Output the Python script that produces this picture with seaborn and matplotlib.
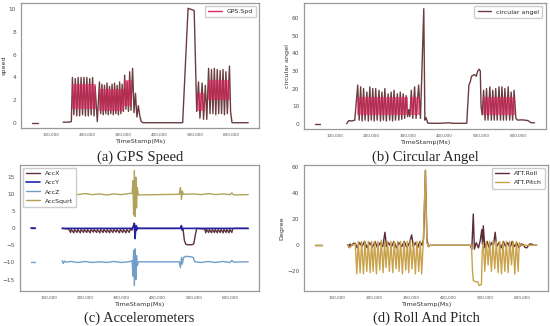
import numpy as np
import pandas as pd
import matplotlib
matplotlib.use("Agg")
import matplotlib.pyplot as plt
import seaborn as sns
from matplotlib.ticker import FuncFormatter

# timestamps are written in thousands of ms, nan = gap in the log
nan = np.nan

# (a) GPS speed
spd_t = [47, 64, 65, 134, 150, 157,
         160, 164, 168, 172, 176, 180, 184, 188, 192, 196, 200, 204, 208, 212, 216, 220, 223, 229,
         235, 238.5, 242, 245.5, 249, 252.5, 256, 259.5, 263, 266.5, 270, 273.5, 277, 280.5, 284, 287.5, 291, 294.5, 298, 301.5,
         305, 308.5, 312, 315.5, 319, 322.5, 327, 331, 335, 339, 343, 347, 351, 356,
         466, 481, 490, 498, 505, 510, 514, 520, 524, 529, 533,
         538, 542, 546, 550, 554, 558, 562, 566, 570, 574, 578, 582, 586, 590, 596, 599, 603, 648]
spd_v = [0, 0, nan, 0.05, 0.05, 0.1,
         4.0, 0.7, 3.9, 0.6, 4.0, 0.6, 4.0, 0.7, 4.0, 0.6, 4.0, 0.6, 3.9, 0.7, 4.0, 0.6, 3.2, 0.1,
         3.6, 0.8, 3.4, 0.7, 3.3, 0.8, 3.5, 0.7, 3.2, 0.8, 3.4, 0.7, 3.5, 0.8, 3.3, 0.7, 3.6, 0.8, 3.4, 1.0,
         4.2, 1.2, 3.6, 1.0, 4.5, 1.1, 4.8, 0.9, 2.6, 0.5, 1.5, 0.6, 0.1, 0,
         0, 10.1, 10.0, 9.9, 1.0, 3.6, 0.4, 3.5, 0.3, 3.3, 0.3,
         4.8, 0.8, 4.7, 0.8, 4.8, 0.7, 4.7, 0.8, 4.6, 0.8, 4.7, 0.7, 4.5, 0.8, 5.0, 1.0, 0.0, 0]
spd_band_t = [159, 226, nan, 233, 302, nan, 303, 326, nan, 507, 529, nan, 537, 597]
spd_band_lo = [1.2, 1.2, nan, 1.0, 1.0, nan, 1.5, 1.5, nan, 1.0, 1.0, nan, 2.0, 2.0]
spd_band_hi = [3.4, 3.4, nan, 3.0, 3.0, nan, 3.8, 3.8, nan, 2.6, 2.6, nan, 3.8, 3.8]

# (b) circular angle
ang_t = [47, 61, 62, 133, 139, 146, 155,
         163, 167, 171, 175, 179, 183, 188, 192, 196, 200, 204, 208, 212, 216, 221, 225, 229, 233, 237, 241,
         246, 250, 254, 258, 262, 266, 271, 275, 279, 283, 287, 291, 295, 299, 302, 305, 309, 313, 318, 322,
         329, 334, 343, 346, 349, 354, 380, 415, 420, 460, 466, 470, 473, 481, 486, 490, 494, 497, 499, 502,
         506, 510, 514, 518, 523, 527, 531, 535, 539, 543, 548, 552, 556, 560, 564, 568, 573, 577, 581, 585,
         589, 594, 599, 610, 626, 632, 636, 645]
ang_v = [0, 0, nan, 0, 1.8, 1.5, 2.0,
         22, 2, 21, 1.5, 20, 2, 18, 1.5, 21, 2, 20, 1.5, 20, 2, 19, 1.5, 18, 2, 20, 1.5,
         17, 2, 18, 1.5, 19, 2, 17, 2, 18, 2.5, 17, 3, 16, 4, 8, 4, 19, 3, 21, 3,
         22, 3, 65.5, 2, 3.5, 0.3, 0.2, 0.5, 0.2, 0.2, 22, 24, 27, 28, 27, 30, 31, 30, 10, 5,
         19, 2, 20, 2, 21, 2, 19, 2, 20, 2, 21, 2, 21, 2, 20, 2, 21, 2, 18, 2,
         19, 3, 2, 2.2, 1.8, 1.0, 0.5, 0.5]
ang_band_t = [162, 300, nan, 306, 333, nan, 505, 592]
ang_band_lo = [5, 5, nan, 5, 5, nan, 5, 5]
ang_band_hi = [15, 15, nan, 15, 15, nan, 15, 15]

# (c) accelerometers
accx_t = [50, 63, 64, 137, 155,
          160, 162, 169, 171, 178, 180, 187, 189, 196, 198, 205, 207, 214, 216, 223, 225, 232, 234,
          241, 243, 250, 252, 259, 261, 268, 270, 277, 279, 286, 288, 295, 297, 304, 306, 313, 315, 322, 324,
          330, 336, 338, 341, 345, 470, 474, 478, 485, 495, 500, 504, 508, 530,
          533, 535, 541, 543, 549, 551, 557, 559, 565, 567, 573, 575, 581, 583, 589, 591, 597, 599, 605, 607, 612, 650]
accx_v = [0, 0, nan, 0, -0.2,
          -1.2, -0.3, -1.3, -0.3, -1.2, -0.3, -1.3, -0.3, -1.2, -0.3, -1.2, -0.3, -1.3, -0.3, -1.1, -0.3, -1.2, -0.3,
          -1.3, -0.3, -1.2, -0.3, -1.2, -0.3, -1.3, -0.3, -1.2, -0.3, -1.1, -0.3, -1.3, -0.3, -1.2, -0.3, -1.3, -0.3, -1.2, -0.3,
          -0.5, 1.2, -2.0, 0.8, 0, 0, -3.5, -4.7, -4.8, -4.8, -4.5, -2.0, 0, -0.2,
          -1.3, -0.3, -1.2, -0.3, -1.3, -0.3, -1.2, -0.3, -1.3, -0.3, -1.2, -0.3, -1.3, -0.3, -1.2, -0.3, -1.3, -0.3, -1.2, -0.2, 0, 0]
accy_t = [50, 63, 64, 137, 330, 333, 336, 338, 340, 342, 345, 348, 463, 466, 468, 471, 650]
accy_v = [0, 0, nan, 0, 0, 0.5, 1.5, -3.0, 0.8, -0.5, 0.2, 0, 0, 0.8, -0.5, 0, 0]
accz_t = [50, 63, 64, 137, 140, 143, 148, 160, 180, 200, 220, 240, 260, 280, 300, 320, 330,
          332, 334, 336, 338, 340, 342, 344, 347, 460, 463, 466, 468, 472, 478, 490, 498, 503,
          520, 540, 560, 580, 600, 605, 610, 650]
accz_v = [-9.8, -9.8, nan, -9.5, -10.3, -9.6, -9.9, -9.7, -10.0, -9.7, -10.0, -9.8, -10.0, -9.7, -10.0, -9.8, -9.5,
          -14, -6.5, -16.8, -6.0, -15, -8, -11, -9.8, -9.8, -11.5, -8.5, -10.5, -8.5, -8.2, -8.3, -8.5, -9.8,
          -10.0, -9.7, -10.0, -9.7, -10.0, -9.4, -9.9, -9.8]
accs_t = [50, 63, 64, 137, 140, 145, 160, 180, 200, 220, 240, 260, 280, 300, 320, 330,
          332, 334, 336, 338, 340, 342, 344, 347, 460, 463, 466, 468, 471,
          500, 520, 540, 560, 580, 600, 605, 610, 650]
accs_v = [9.9, 9.9, nan, 10.0, 10.3, 9.8, 10.1, 9.9, 10.2, 9.9, 10.1, 9.8, 10.1, 9.9, 10.2, 10.3,
          14, 4, 17, 3.5, 15, 6, 12, 9.8, 10.0, 12, 8.5, 11, 10.0,
          10.1, 9.9, 10.2, 9.9, 10.1, 9.9, 10.4, 9.8, 9.9]

# (d) roll and pitch
roll_t = [42, 60, 61, 130, 133, 136, 140, 145, 150,
          155, 162, 168, 175, 182, 189, 196, 203, 210, 217, 224, 230, 234, 240, 247, 254, 261, 268, 275,
          282, 289, 296, 302, 306, 312, 318, 324, 330, 334, 339, 343, 347, 352, 460, 464, 468, 471, 476,
          482, 487, 491, 493, 495, 499, 505, 511, 517, 522, 527, 531, 537, 543, 549, 555, 561, 567, 573,
          579, 585, 591, 597, 603, 607, 612, 620, 625, 630, 639]
roll_v = [0, 0, nan, 0.5, -1.5, 1, -0.5, 1.5, 1.5,
          -2, 2, -1, 3, -2, 2, -1.5, 3, -2, 2, -1, 10, -1, 2, -1.5, 3, -2, 2, -1,
          3, -2, 2, 8, -1, 2, -2, 3, 0, 5, 57.5, 5, -1, 0, 0, -3, 24, -3, 2,
          -2, 4, 12, 1, 15, -2, 3, -2, 2, -1, 10, -1, 2, -2, 3, -1, 2, -2, 3,
          -1, 2, -2, 1, 0.5, -1.5, -2, 1, 1, 0, 0]
pitch_t = [42, 60, 61, 130, 135, 140, 150,
           154, 158, 163, 167, 172, 176, 181, 185, 190, 194, 198, 202, 207, 211, 216, 220, 225, 229,
           233, 237, 242, 246, 251, 255, 260, 264, 268, 272, 277, 281, 286, 290, 294, 298, 303, 307,
           312, 316, 321, 325, 329, 333, 339, 343, 347, 352, 463, 466, 468, 474, 480, 484, 490, 492, 495,
           499, 503, 508, 512, 517, 521, 526, 530, 535, 539, 544, 548, 553, 557, 562, 566, 571, 575,
           580, 584, 589, 592, 597, 639]
pitch_v = [0, 0, nan, 0, -2, 0, 1,
           -22, 3, -21, 3, -22, 3, -20, 3, -21, 3, -20, 3, -22, 3, -19, 4, -21, 3,
           -17, 3, -20, 3, -21, 3, -18, 3, -20, 3, -22, 3, -19, 3, -21, 4, -18, 3,
           -22, 3, -20, 3, -22, 2, 57, 2, -1, 0, 0, -20, -27, -28, -28, -31, -30, -5, 2,
           -20, 3, -15, 3, -20, 3, -18, 3, -21, 3, -22, 3, -20, 3, -21, 3, -15, 3,
           -22, 3, -20, 2, 0, 0]

x_ticks = [100000, 200000, 300000, 400000, 500000, 600000]
captions = ["(a) GPS Speed", "(b) Circular Angel", "(c) Accelerometers", "(d) Roll And Pitch"]


def to_df(t, v):
    df = pd.DataFrame({"TimeStamp": np.array(t, dtype=float) * 1000, "value": v})
    df["seg"] = df["value"].isna().cumsum()
    return df.dropna()


def draw(ax, t, v, name, color, lw=1.0):
    sns.lineplot(data=to_df(t, v), x="TimeStamp", y="value", units="seg", estimator=None,
                 sort=False, color=color, lw=lw, label=name, ax=ax)


def band(ax, t, lo, hi, color):
    ax.fill_between(np.array(t, dtype=float) * 1000, lo, hi, color=color, alpha=0.6, lw=0, zorder=3)


def style(ax, ylabel, yticks, loc="upper right"):
    ax.set_xticks(x_ticks)
    ax.xaxis.set_major_formatter(FuncFormatter(lambda x, p: f"{x:,.0f}"))
    ax.set_yticks(yticks)
    ax.tick_params(axis="x", labelsize=3.0, length=2, width=0.5, pad=1.5, colors="#555555")
    ax.tick_params(axis="y", labelsize=4.2, length=2, width=0.5, pad=1.5, colors="#555555")
    ax.set_xlabel("TimeStamp(Ms)", fontsize=4.6, labelpad=1.5, color="#333333")
    ax.set_ylabel(ylabel, fontsize=4.6, labelpad=1.5, color="#333333")
    for s in ax.spines.values():
        s.set_color("#9a9a9a")
        s.set_linewidth(0.9)
    # one legend entry per series (units split lines into segments)
    handles, labels = ax.get_legend_handles_labels()
    uniq = dict(zip(labels[::-1], handles[::-1]))
    names = list(dict.fromkeys(labels))
    ax.legend([uniq[n] for n in names], names, fontsize=4.5, loc=loc,
              handlelength=2.2, borderpad=0.5, labelspacing=0.6, framealpha=1, edgecolor="#cccccc")


sns.set_style("white")
plt.rcParams["font.family"] = ["DejaVu Sans"]

fig = plt.figure(figsize=(5.5, 3.26), dpi=100)
ax_a = fig.add_axes([0.038, 0.606, 0.433, 0.386])
ax_b = fig.add_axes([0.553, 0.603, 0.439, 0.388])
ax_c = fig.add_axes([0.036, 0.106, 0.435, 0.389])
ax_d = fig.add_axes([0.553, 0.106, 0.443, 0.389])

crimson = "#e0245e"
dark = "#6b3d3f"

draw(ax_a, spd_t, spd_v, "GPS.Spd", dark)
band(ax_a, spd_band_t, spd_band_lo, spd_band_hi, crimson)
style(ax_a, "speed", [0, 2, 4, 6, 8, 10])
ax_a.get_legend().get_lines()[0].set_color(crimson)

draw(ax_b, ang_t, ang_v, "circular angel", dark)
band(ax_b, ang_band_t, ang_band_lo, ang_band_hi, crimson)
style(ax_b, "circular angel", [0, 10, 20, 30, 40, 50, 60])

draw(ax_c, accx_t, accx_v, "AccX", "#5e3236")
draw(ax_c, accy_t, accy_v, "AccY", "#2323a8", lw=1.2)
draw(ax_c, accz_t, accz_v, "AccZ", "#6f9fc8")
draw(ax_c, accs_t, accs_v, "AccSqurt", "#b0a25a")
style(ax_c, "", [-15, -10, -5, 0, 5, 10, 15], loc="upper left")

draw(ax_d, roll_t, roll_v, "ATT.Roll", "#5c2b33")
draw(ax_d, pitch_t, pitch_v, "ATT.Pitch", "#c9a24a")
style(ax_d, "Degree", [-20, 0, 20, 40, 60])

for ax, cap, y in zip([ax_a, ax_b, ax_c, ax_d], captions, [0.518, 0.518, 0.025, 0.025]):
    pos = ax.get_position()
    fig.text((pos.x0 + pos.x1) / 2, y, cap, ha="center", va="center",
             fontsize=10.5, family="Liberation Serif")

fig.savefig("out.png", dpi=100)
